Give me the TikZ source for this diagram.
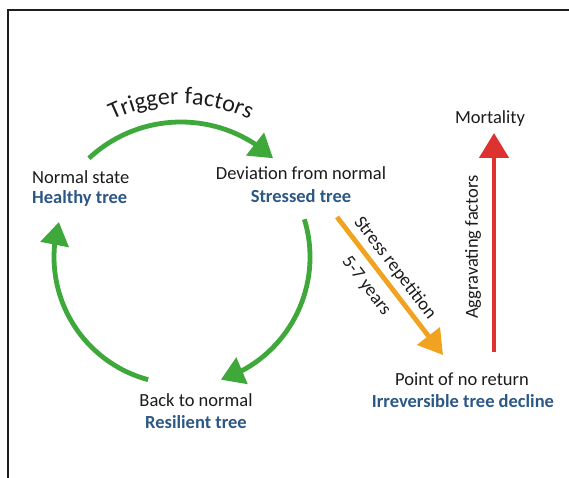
\documentclass[tikz,border=0pt]{standalone}
\usepackage{fontspec}
\setmainfont{Carlito}
\usetikzlibrary{arrows.meta,bending,decorations.text}
\definecolor{cgreen}{RGB}{62,168,58}
\definecolor{cblue}{RGB}{44,88,134}
\definecolor{corange}{RGB}{240,162,32}
\definecolor{cred}{RGB}{222,50,48}
\definecolor{ctext}{RGB}{28,28,28}
\definecolor{cframe}{RGB}{30,30,30}
\begin{document}
\begin{tikzpicture}[x=1pt,y=1pt,
  lbl/.style={font=\fontsize{18.5}{20}\selectfont, text=ctext, inner sep=0pt, anchor=base},
  sub/.style={font=\fontsize{18.5}{20}\selectfont\bfseries, text=cblue, inner sep=0pt, anchor=base},
  garrow/.style={draw=cgreen, line width=4.8pt, -{Triangle[length=23pt,width=28pt,flex]}},
  oarrow/.style={draw=corange, line width=4.8pt, -{Triangle[length=24pt,width=28pt]}},
  rarrow/.style={draw=cred, line width=4.8pt, -{Triangle[length=25pt,width=29pt]}}]
\useasboundingbox (0,0) rectangle (569,477);
\fill[white] (0,0) rectangle (569,477);
% frame
\draw[cframe, line width=2pt] (8,-2) -- (8,466.5) -- (571,466.5);
% labels
\node[lbl, anchor=base west] (ns) at (32,294) {Normal state};
\node[sub, anchor=base west] (ht) at (32,273) {Healthy tree};
\node[lbl] (dev) at (301,297) {Deviation from normal};
\node[sub] (st) at (301,275) {Stressed tree};
\node[lbl] (mort) at (490,353) {Mortality};
\node[lbl] (pnr) at (462,92) {Point of no return};
\node[sub] (itd) at (463,70) {Irreversible tree decline};
\node[lbl] (btn) at (196,71) {Back to normal};
\node[sub] (rt) at (196,49) {Resilient tree};
% green cycle
\coordinate (c) at (181,220);
\path (c) ++(133:135) coordinate (tA);
\path (c) ++(17:129) coordinate (rA);
\path (c) ++(255:127) coordinate (lA);
\draw[garrow] (tA) arc[start angle=133, end angle=47, radius=135];
\draw[garrow] (rA) arc[start angle=17, end angle=-72, radius=129];
\draw[garrow] (lA) arc[start angle=255, end angle=164, radius=127];
% trigger factors text
\path[decorate, decoration={text along path, text align=center,
  text={|\fontsize{24}{24}\selectfont\color{ctext}|Trigger factors}}]
  (c) ++(0,-1) ++(150:154) arc[start angle=150, end angle=30, radius=154];
% orange arrow
\coordinate (os) at (337,260);
\coordinate (oe) at (443,122);
\draw[oarrow] (os) -- (oe);
\node[lbl, anchor=center, rotate=-52.5] (srep) at (395,209) {Stress repetition};
\node[lbl, anchor=center, rotate=-52.5] (yrs) at (366,191) {5-7 years};
% red arrow
\coordinate (rs) at (494,125);
\coordinate (re) at (494,344);
\draw[rarrow] (rs) -- (re);
\node[lbl, anchor=center, rotate=90] (agg) at (473,230) {Aggravating factors};
\end{tikzpicture}
\end{document}
